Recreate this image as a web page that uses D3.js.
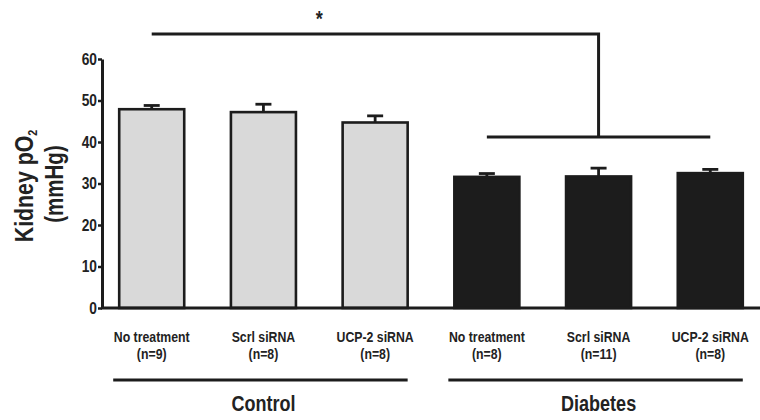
<!DOCTYPE html>
<html>
<head>
<meta charset="utf-8">
<script src="https://cdn.jsdelivr.net/npm/d3@7"></script>
<style>
  html, body { margin: 0; padding: 0; background: #fff; }
  svg { display: block; }
  text { font-family: "Liberation Sans", Arial, Helvetica, sans-serif; font-weight: bold; fill: #222; }
</style>
</head>
<body>
<svg id="chart" width="760" height="420"></svg>
<script>
const groups = ["Control", "Diabetes"];
const treatments = ["No treatment", "Scrl siRNA", "UCP-2 siRNA"];
const nLabels = ["(n=9)", "(n=8)", "(n=8)", "(n=8)", "(n=11)", "(n=8)"];
const means = [47.9, 47.2, 44.7, 31.6, 31.7, 32.5];
const errors = [0.9, 1.9, 1.6, 0.8, 2.0, 0.9];
const yTicks = [0, 10, 20, 30, 40, 50, 60];
const yLabel = ["Kidney pO", "(mmHg)"];

const bars = [];
groups.forEach((g, gi) => treatments.forEach((t, ti) => {
  const i = gi * treatments.length + ti;
  bars.push({ key: g + "|" + t, group: g, gi, treatment: t, n: nLabels[i], mean: means[i], err: errors[i] });
}));

const svg = d3.select("#chart");
const ink = "#1c1c1c";
const narrow = 0.82; // condensed look of the original typeface

const x = d3.scaleBand().domain(bars.map(d => d.key)).range([102, 760]).paddingInner(0.418).paddingOuter(0.154);
const y = d3.scaleLinear().domain([0, 60]).range([308, 59]);
const bw = x.bandwidth();

function label(parent, tx, ty, str, size, rot) {
  return parent.append("text")
    .attr("transform", `translate(${tx},${ty})${rot ? " rotate(" + rot + ")" : ""} scale(${narrow},1)`)
    .attr("text-anchor", "middle").style("font-size", size + "px").text(str);
}

// bars
svg.append("g").selectAll("rect").data(bars).join("rect")
  .attr("x", d => x(d.key))
  .attr("y", d => y(d.mean))
  .attr("width", bw)
  .attr("height", d => y(0) - y(d.mean))
  .attr("fill", d => d.gi === 0 ? "#d9d9d9" : "#1c1c1c")
  .attr("stroke", ink)
  .attr("stroke-width", 2.6);

// error bars
const eb = svg.append("g").attr("stroke", ink).attr("stroke-width", 2.8);
eb.selectAll("line.v").data(bars).join("line").attr("class", "v")
  .attr("x1", d => x(d.key) + bw / 2).attr("x2", d => x(d.key) + bw / 2)
  .attr("y1", d => y(d.mean)).attr("y2", d => y(d.mean + d.err));
eb.selectAll("line.c").data(bars).join("line").attr("class", "c")
  .attr("x1", d => x(d.key) + bw / 2 - 8).attr("x2", d => x(d.key) + bw / 2 + 8)
  .attr("y1", d => y(d.mean + d.err)).attr("y2", d => y(d.mean + d.err));

// y axis
const yAxis = svg.append("g").attr("transform", "translate(102,0)")
  .call(d3.axisLeft(y).tickValues(yTicks).tickSize(4).tickSizeOuter(0).tickPadding(1));
yAxis.select(".domain").attr("stroke", ink).attr("stroke-width", 3);
yAxis.selectAll(".tick line").attr("stroke", ink).attr("stroke-width", 2.5);
yAxis.selectAll(".tick text").attr("fill", "#222").attr("x", 0)
  .attr("transform", `translate(-5,0) scale(0.86,1)`)
  .style("font-size", "16px").style("font-family", '"Liberation Sans", Arial, sans-serif').style("font-weight", "bold");

// baseline
svg.append("line").attr("x1", 101).attr("x2", 760).attr("y1", y(0)).attr("y2", y(0))
  .attr("stroke", ink).attr("stroke-width", 3);

// y label
const yl = label(svg, 33, 186, yLabel[0], 26, -90);
yl.append("tspan").text("2").style("font-size", "13px").attr("dy", 4);
label(svg, 63, 184, yLabel[1], 25, -90);

// x labels
bars.forEach(d => {
  label(svg, x(d.key) + bw / 2, 342, d.treatment, 15);
  label(svg, x(d.key) + bw / 2, 359, d.n, 15);
});

// group lines & labels
groups.forEach((g, gi) => {
  const gb = bars.filter(d => d.gi === gi);
  const x0 = x(gb[0].key) - 6, x1 = x(gb[gb.length - 1].key) + bw;
  svg.append("line").attr("x1", x0).attr("x2", x1).attr("y1", 380).attr("y2", 380)
    .attr("stroke", ink).attr("stroke-width", 3);
  label(svg, (x0 + x1) / 2 + 3, 411, g, 22);
});

// significance bracket
const cx = i => x(bars[i].key) + bw / 2;
const yTop = y(66), yLow = y(41.2);
const br = svg.append("g").attr("stroke", ink).attr("stroke-width", 3).attr("fill", "none");
br.append("path").attr("d", `M${cx(0)},${yTop}H${cx(4)}V${yLow}`);
br.append("line").attr("x1", cx(3)).attr("x2", cx(5)).attr("y1", yLow).attr("y2", yLow);
label(svg, (cx(1) + cx(2)) / 2, 26, "*", 22);
</script>
</body>
</html>
